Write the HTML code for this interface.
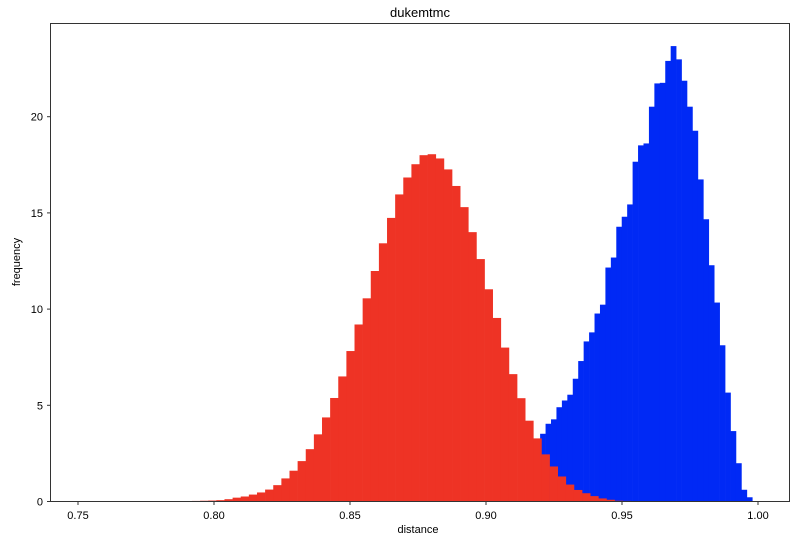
<!DOCTYPE html>
<html><head><meta charset="utf-8"><style>
body{margin:0;background:#fff;}
svg{display:block;font-family:"Liberation Sans","DejaVu Sans",sans-serif;}
</style></head><body>
<svg id="chart" width="802" height="540">
<text x="420" y="17" text-anchor="middle" font-size="13" fill="#000">dukemtmc</text>
<g id="bars"></g>
<rect x="50.5" y="23.5" width="739" height="478" fill="none" stroke="#333" stroke-width="1"/>
<g id="axes"></g>
<text x="418" y="533" text-anchor="middle" font-size="11" fill="#000">distance</text>
<text transform="translate(20,262) rotate(-90)" text-anchor="middle" font-size="11" fill="#000">frequency</text>
</svg>
<script>
const redStart = 0.7919;
const redWidth = 0.002988;
const redValues = [0.03,0.04,0.05,0.07,0.12,0.2,0.26,0.36,0.47,0.62,0.85,1.2,1.6,2.1,2.72,3.49,4.37,5.38,6.5,7.82,9.2,10.56,11.98,13.42,14.74,15.96,16.84,17.53,18.0,18.05,17.83,17.26,16.4,15.3,14.0,12.6,11.03,9.54,8.0,6.62,5.37,4.2,3.28,2.45,1.82,1.3,0.88,0.6,0.43,0.28,0.16,0.09,0.04,0.03,0.02];
const blueStart = 0.9199;
const blueWidth = 0.002;
const blueValues = [3.52,4.04,4.27,4.9,5.25,5.55,6.38,7.3,8.32,8.79,9.77,10.23,12.16,12.68,14.28,14.8,15.44,17.66,18.51,18.61,20.52,21.73,21.76,22.9,23.67,22.98,21.87,20.52,19.27,16.74,14.67,12.28,10.34,8.12,5.66,3.66,1.99,0.61,0.22];
const xTicks = [0.75,0.80,0.85,0.90,0.95,1.00];
const xTickLabels = ["0.75","0.80","0.85","0.90","0.95","1.00"];
const yTicks = [0,5,10,15,20];
const yTickLabels = ["0","5","10","15","20"];

const NS="http://www.w3.org/2000/svg";
function xs(v){return 78+(v-0.75)*2720;}
function ys(v){return 501.5-v*19.24;}
const bars=document.getElementById('bars');
function drawSeries(start,w,vals,color,name){
  vals.forEach((v,i)=>{
    const x0=xs(start+i*w), x1=xs(start+(i+1)*w);
    const r=document.createElementNS(NS,'rect');
    r.setAttribute('x',x0);r.setAttribute('width',x1-x0+0.3);
    r.setAttribute('y',ys(v));r.setAttribute('height',ys(0)-ys(v));
    r.setAttribute('fill',color);
    
    
    bars.appendChild(r);
  });
}
drawSeries(blueStart,blueWidth,blueValues,'#0029f5','blue-bar');
drawSeries(redStart,redWidth,redValues,'#ee3325','red-bar');
const axes=document.getElementById('axes');
xTicks.forEach((t,i)=>{
  const x=xs(t);
  const l=document.createElementNS(NS,'line');
  l.setAttribute('x1',x);l.setAttribute('x2',x);l.setAttribute('y1',501.5);l.setAttribute('y2',505);l.setAttribute('stroke','#333');
  
  
  axes.appendChild(l);
  const tx=document.createElementNS(NS,'text');
  tx.setAttribute('x',x);tx.setAttribute('y',519);tx.setAttribute('text-anchor','middle');tx.setAttribute('font-size','11');
  tx.textContent=xTickLabels[i];
  
  
  axes.appendChild(tx);
});
yTicks.forEach((t,i)=>{
  const y=ys(t);
  const l=document.createElementNS(NS,'line');
  l.setAttribute('x1',47);l.setAttribute('x2',50.5);l.setAttribute('y1',y);l.setAttribute('y2',y);l.setAttribute('stroke','#333');
  
  
  axes.appendChild(l);
  const tx=document.createElementNS(NS,'text');
  tx.setAttribute('x',43);tx.setAttribute('y',y+4);tx.setAttribute('text-anchor','end');tx.setAttribute('font-size','11');
  tx.textContent=yTickLabels[i];
  
  
  axes.appendChild(tx);
});
</script>
</body></html>
